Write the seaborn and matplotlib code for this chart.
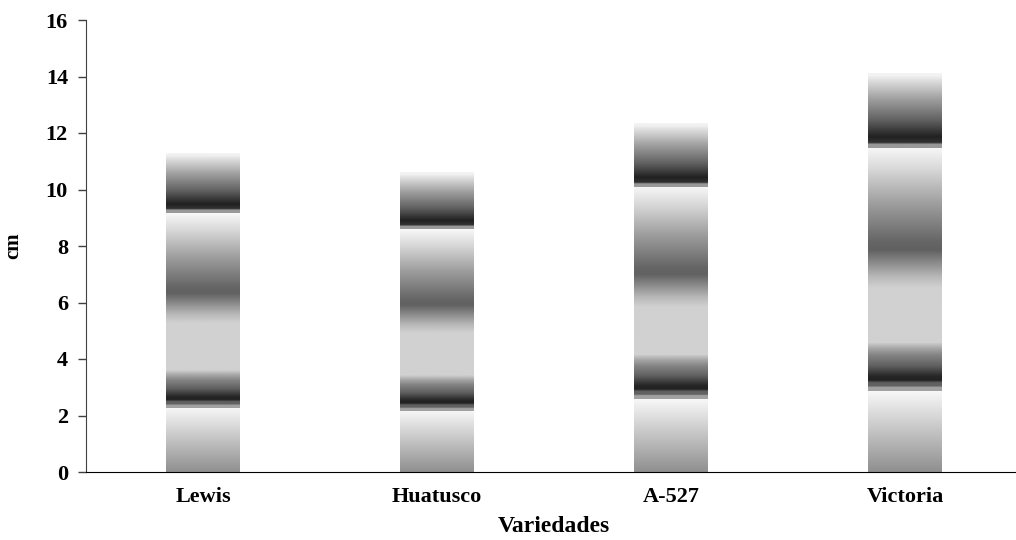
import numpy as np
import pandas as pd
import seaborn as sns
import matplotlib.pyplot as plt

sns.set_style("white")
plt.rcParams["font.family"] = ["Liberation Serif", "DejaVu Serif"]
plt.rcParams["font.weight"] = "bold"
plt.rcParams["text.color"] = "black"
plt.rcParams["axes.labelcolor"] = "black"

variedades = ["Lewis", "Huatusco", "A-527", "Victoria"]
# upper limit (cm) of each shaded zone, bottom to top
lim_1 = [2.28, 2.17, 2.57, 2.85]
lim_2 = [3.60, 3.43, 4.14, 4.57]
lim_3 = [5.27, 4.92, 5.85, 6.50]
lim_4 = [9.16, 8.59, 10.10, 11.47]
lim_5 = [11.28, 10.60, 12.34, 14.10]

# grey ramps (fraction of zone height, grey level) for each zone
ramps = [
    [(0, 0.56), (1, 0.97)],
    [(0, 0.63), (0.08, 0.63), (0.10, 0.38), (0.17, 0.38), (0.22, 0.13), (0.30, 0.15),
     (0.52, 0.38), (0.74, 0.52), (0.87, 0.65), (1, 0.82)],
    [(0, 0.82), (1, 0.82)],
    [(0, 0.82), (0.08, 0.72), (0.27, 0.38), (0.33, 0.40), (0.6, 0.62), (0.85, 0.85), (1, 0.97)],
    [(0, 0.60), (0.05, 0.60), (0.07, 0.20), (0.15, 0.13), (0.37, 0.38), (0.66, 0.63),
     (0.91, 0.88), (0.97, 0.95), (1, 0.95)],
]

df = pd.DataFrame({"Variedad": variedades, "total": lim_5})
limits = np.array([[0] * 4, lim_1, lim_2, lim_3, lim_4, lim_5])

fig = plt.figure(figsize=(10.16, 5.4), dpi=100)
ax = fig.add_axes([86 / 1016, 68 / 540, 936 / 1016, 452 / 540])
sns.barplot(data=df, x="Variedad", y="total", ax=ax, width=0.316,
            facecolor="none", edgecolor="none", linewidth=0)

for i, p in enumerate(ax.patches):
    x0 = p.get_x()
    x1 = x0 + p.get_width()
    for k, ramp in enumerate(ramps):
        lo, hi = limits[k][i], limits[k + 1][i]
        f = np.linspace(0, 1, 300)
        fx, gv = zip(*ramp)
        col = np.interp(f, fx, gv)[::-1].reshape(-1, 1)
        ax.imshow(col, cmap="gray", vmin=0, vmax=1, aspect="auto",
                  extent=[x0, x1, lo, hi], interpolation="bilinear", zorder=1)

ax.set_xlim(-0.5, 3.5)
ax.set_ylim(0, 16)
ax.set_yticks(range(0, 17, 2))
ax.set_xticks(range(4))
ax.set_xticks([-0.5, 0.5, 1.5, 2.5, 3.5], minor=True)
ax.tick_params(axis="x", which="major", length=0, pad=11, labelsize=16, labelcolor="black")
ax.tick_params(axis="x", which="minor", length=6, width=1, color="#404040", direction="out")
ax.tick_params(axis="y", length=6, width=1, color="#404040", direction="out", pad=7,
               labelsize=16, labelcolor="black", left=True)
for lab in ax.get_xticklabels() + ax.get_yticklabels():
    lab.set_fontweight("bold")
sns.despine(ax=ax)
ax.spines["left"].set_color("#404040")
ax.spines["bottom"].set_color("black")
ax.spines["bottom"].set_zorder(5)
ax.set_xlabel("Variedades", fontsize=17, fontweight="bold", labelpad=6)
ax.set_ylabel("cm", fontsize=15, fontweight="bold", labelpad=16)

plt.savefig("out.png", dpi=100)
